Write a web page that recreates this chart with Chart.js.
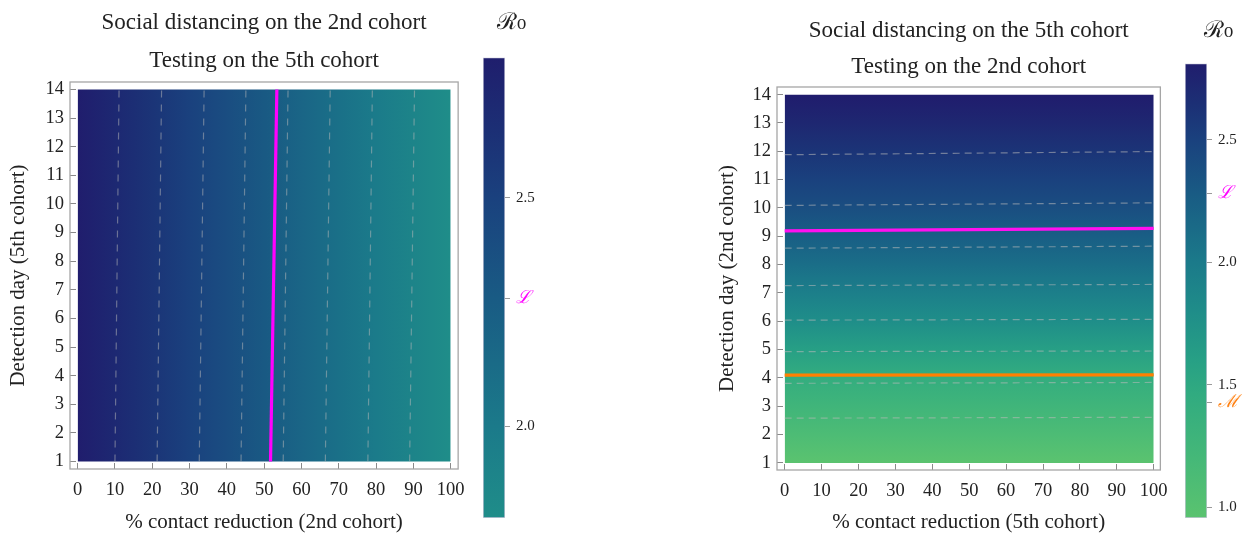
<!DOCTYPE html>
<html>
<head>
<meta charset="utf-8">
<script src="https://cdn.jsdelivr.net/npm/chart.js@4/dist/chart.umd.min.js"></script>
<style>
  body { margin: 0; background: #fff; width: 1257px; height: 533px; position: relative; overflow: hidden; }
  canvas { position: absolute; top: 0; }
</style>
</head>
<body>
<canvas id="mainLeft" width="481" height="533" style="left:0px"></canvas>
<canvas id="barLeft" width="70" height="533" style="left:470px"></canvas>
<canvas id="mainRight" width="484" height="533" style="left:700px"></canvas>
<canvas id="barRight" width="80" height="533" style="left:1172px"></canvas>
<script>
// axes
const contactPct = [0, 10, 20, 30, 40, 50, 60, 70, 80, 90, 100];
const detectionDays = [1, 2, 3, 4, 5, 6, 7, 8, 9, 10, 11, 12, 13, 14];

// R0
const r0ByContact = [2.81, 2.71, 2.61, 2.50, 2.40, 2.30, 2.19, 2.09, 1.99, 1.89, 1.80];
const r0ByDay = [0.95, 1.11, 1.27, 1.42, 1.61, 1.79, 1.95, 2.11, 2.25, 2.39, 2.50, 2.61, 2.72, 2.82];

// dashed contour lines (left: x at day 1 / day 14, right: day at 0% / 100%)
const contourLeftBottom = [10.0, 21.3, 32.6, 43.8, 55.1, 66.4, 77.8, 89.0];
const contourLeftTop = [11.1, 22.5, 33.9, 45.1, 56.4, 67.7, 79.0, 90.3];
const contourRightStart = [11.88, 10.09, 8.58, 7.26, 6.04, 4.93, 3.81, 2.58];
const contourRightEnd = [11.99, 10.18, 8.65, 7.30, 6.07, 4.95, 3.84, 2.61];

// threshold curves
const lLeftX = [51.7, 53.4];
const lRightY = [9.19, 9.28];
const mRightY = [4.10, 4.11];

// colour bars
const cbLeftRange = [1.80, 2.807];
const cbRightRange = [0.957, 2.81];
const cbTicks = [1.0, 1.5, 2.0, 2.5];
const levelL = 2.28;
const levelM = 1.43;

const SERIF = "'Liberation Serif', 'DejaVu Serif', serif";
const INK = '#222';

// colormap stops (value -> colour)
const palette = [
  [0.95, [91, 195, 111]], [1.2, [69, 184, 120]], [1.46, [49, 171, 128]],
  [1.6, [39, 160, 133]], [1.8, [31, 141, 137]], [2.0, [27, 122, 138]],
  [2.28, [25, 91, 132]], [2.5, [26, 65, 126]], [2.65, [28, 47, 117]], [2.83, [32, 27, 108]]
];

function colorAt(v) {
  if (v <= palette[0][0]) return 'rgb(' + palette[0][1].join(',') + ')';
  for (let i = 1; i < palette.length; i++) {
    if (v <= palette[i][0]) {
      const [v0, c0] = palette[i - 1], [v1, c1] = palette[i];
      const t = (v - v0) / (v1 - v0);
      return 'rgb(' + c0.map((c, k) => Math.round(c + (c1[k] - c) * t)).join(',') + ')';
    }
  }
  return 'rgb(' + palette[palette.length - 1][1].join(',') + ')';
}

function contactGradient(c) {
  const { chart } = c;
  if (!chart.chartArea) return 'transparent';
  const sx = chart.scales.x;
  const a = contactPct[0], b = contactPct[contactPct.length - 1];
  const g = chart.ctx.createLinearGradient(sx.getPixelForValue(a), 0, sx.getPixelForValue(b), 0);
  contactPct.forEach((p, i) => g.addColorStop((p - a) / (b - a), colorAt(r0ByContact[i])));
  return g;
}

function dayGradient(c) {
  const { chart } = c;
  if (!chart.chartArea) return 'transparent';
  const sy = chart.scales.y;
  const a = detectionDays[0], b = detectionDays[detectionDays.length - 1];
  const g = chart.ctx.createLinearGradient(0, sy.getPixelForValue(a), 0, sy.getPixelForValue(b));
  detectionDays.forEach((d, i) => g.addColorStop((d - a) / (b - a), colorAt(r0ByDay[i])));
  return g;
}

const framePlugin = {
  id: 'frame',
  afterDatasetsDraw(chart) {
    const { ctx, chartArea: a } = chart;
    ctx.save();
    ctx.strokeStyle = '#a6a6a6';
    ctx.lineWidth = 1.3;
    ctx.strokeRect(a.left, a.top, a.right - a.left, a.bottom - a.top);
    ctx.restore();
  }
};

function heatDataset(gradient) {
  return {
    data: contactPct.map(x => ({ x, y: detectionDays[detectionDays.length - 1] })),
    fill: { value: detectionDays[0] },
    backgroundColor: gradient,
    borderWidth: 0, pointRadius: 0, showLine: true, order: 3
  };
}

function lineDataset(points, color, width, dash) {
  return {
    data: points, borderColor: color, borderWidth: width, borderDash: dash || [],
    pointRadius: 0, showLine: true, fill: false, order: dash ? 2 : 1
  };
}

function mainChart(id, cfg) {
  new Chart(document.getElementById(id), {
    type: 'scatter',
    data: { datasets: cfg.datasets },
    plugins: [framePlugin],
    options: {
      responsive: false,
      animation: false,
      layout: { padding: { left: 0, right: 0, top: 0, bottom: 0 } },
      plugins: {
        legend: { display: false },
        tooltip: { enabled: false },
        title: {
          display: true, fullSize: false, text: cfg.titles, color: INK,
          font: { family: SERIF, size: 23, weight: 'normal', lineHeight: cfg.titleLine },
          padding: cfg.titlePad
        }
      },
      scales: {
        x: {
          type: 'linear', min: cfg.xRange[0], max: cfg.xRange[1],
          afterBuildTicks: s => { s.ticks = contactPct.map(v => ({ value: v })); },
          afterFit: s => { s.height = cfg.xHeight; },
          grid: { drawOnChartArea: false, tickLength: -6, color: '#8a8a8a' },
          border: { display: false },
          ticks: { color: INK, font: { family: SERIF, size: 18.5 }, padding: 16, maxRotation: 0, autoSkip: false },
          title: { display: true, text: cfg.xTitle, color: INK, font: { family: SERIF, size: 21, lineHeight: 1 }, padding: { top: 0, bottom: 0 } }
        },
        y: {
          type: 'linear', min: cfg.yRange[0], max: cfg.yRange[1],
          afterBuildTicks: s => { s.ticks = detectionDays.map(v => ({ value: v })); },
          afterFit: s => { s.width = cfg.yWidth; },
          grid: { drawOnChartArea: false, tickLength: -6, color: '#8a8a8a' },
          border: { display: false },
          ticks: { color: INK, font: { family: SERIF, size: 18.5 }, padding: 12, autoSkip: false },
          title: { display: true, text: cfg.yTitle, color: INK, font: { family: SERIF, size: 21, lineHeight: 1 }, padding: { top: cfg.yTitleOffset, bottom: 0 } }
        }
      }
    }
  });
}

function colorBar(id, range, cfg) {
  const inRange = v => v >= range[0] && v <= range[1];
  const ticks = cbTicks.filter(inRange).concat([levelL, levelM].filter(inRange));
  new Chart(document.getElementById(id), {
    type: 'bar',
    data: {
      labels: ['R0'],
      datasets: [{
        data: [range],
        backgroundColor: c => {
          const { chart } = c;
          if (!chart.chartArea) return 'transparent';
          const sy = chart.scales.y;
          const g = chart.ctx.createLinearGradient(0, sy.getPixelForValue(range[0]), 0, sy.getPixelForValue(range[1]));
          g.addColorStop(0, colorAt(range[0]));
          palette.forEach(([v]) => {
            if (v > range[0] && v < range[1]) g.addColorStop((v - range[0]) / (range[1] - range[0]), colorAt(v));
          });
          g.addColorStop(1, colorAt(range[1]));
          return g;
        },
        borderColor: '#c8c8da', borderWidth: 1, borderSkipped: false,
        barPercentage: 1, categoryPercentage: 1
      }]
    },
    options: {
      responsive: false,
      animation: false,
      layout: { padding: { left: cfg.padLeft, right: 0, top: 0, bottom: cfg.padBottom } },
      plugins: {
        legend: { display: false },
        tooltip: { enabled: false },
        title: {
          display: true, text: 'ℛ₀', color: INK,
          font: { family: "'DejaVu Serif', serif", size: 23, weight: 'normal', lineHeight: 1.2 },
          padding: cfg.titlePad
        }
      },
      scales: {
        x: { display: false },
        y: {
          position: 'right', min: range[0], max: range[1],
          afterBuildTicks: s => { s.ticks = ticks.map(v => ({ value: v })); },
          afterFit: s => { s.width = cfg.axisWidth; },
          grid: { drawOnChartArea: false, tickLength: 5, color: '#9a9a9a' },
          border: { display: false },
          ticks: {
            padding: 6,
            autoSkip: false,
            callback: v => v === levelL ? 'ℒ' : v === levelM ? 'ℳ' : v.toFixed(1),
            color: c => c.tick && c.tick.value === levelL ? '#ff00ff' : c.tick && c.tick.value === levelM ? '#ff7f0e' : INK,
            font: c => (c.tick && (c.tick.value === levelL || c.tick.value === levelM))
              ? { family: "'DejaVu Serif', serif", size: 18, style: 'italic' }
              : { family: SERIF, size: 15 }
          }
        }
      }
    }
  });
}

mainChart('mainLeft', {
  titles: ['Social distancing on the 2nd cohort', 'Testing on the 5th cohort'],
  titleLine: 38 / 23, titlePad: { top: 4, bottom: 2 },
  xTitle: '% contact reduction (2nd cohort)',
  yTitle: 'Detection day (5th cohort)',
  xRange: [-2.05, 102], yRange: [0.74, 14.26],
  xHeight: 64, yWidth: 70, yTitleOffset: 8,
  datasets: [
    heatDataset(contactGradient),
    ...contourLeftBottom.map((b, i) => lineDataset(
      [{ x: b, y: detectionDays[0] }, { x: contourLeftTop[i], y: detectionDays[detectionDays.length - 1] }],
      'rgba(185,185,185,0.5)', 1.2, [7, 7])),
    lineDataset([{ x: lLeftX[0], y: detectionDays[0] }, { x: lLeftX[1], y: detectionDays[detectionDays.length - 1] }], '#ff00ff', 3.2)
  ]
});

mainChart('mainRight', {
  titles: ['Social distancing on the 5th cohort', 'Testing on the 2nd cohort'],
  titleLine: 36 / 23, titlePad: { top: 13, bottom: 2 },
  xTitle: '% contact reduction (5th cohort)',
  yTitle: 'Detection day (2nd cohort)',
  xRange: [-2.08, 101.8], yRange: [0.75, 14.27],
  xHeight: 63, yWidth: 77, yTitleOffset: 17,
  datasets: [
    heatDataset(dayGradient),
    ...contourRightStart.map((s, i) => lineDataset(
      [{ x: contactPct[0], y: s }, { x: contactPct[contactPct.length - 1], y: contourRightEnd[i] }],
      'rgba(185,185,185,0.55)', 1.2, [7, 5])),
    lineDataset([{ x: 0, y: lRightY[0] }, { x: 100, y: lRightY[1] }], '#ff10f0', 3.2),
    lineDataset([{ x: 0, y: mRightY[0] }, { x: 100, y: mRightY[1] }], '#ff8000', 3.2)
  ]
});

colorBar('barLeft', cbLeftRange, { padLeft: 13, padBottom: 12, axisWidth: 35, titlePad: { top: 9, bottom: 21 } });
colorBar('barRight', cbRightRange, { padLeft: 13, padBottom: 11, axisWidth: 45, titlePad: { top: 17, bottom: 19 } });
</script>
</body>
</html>
